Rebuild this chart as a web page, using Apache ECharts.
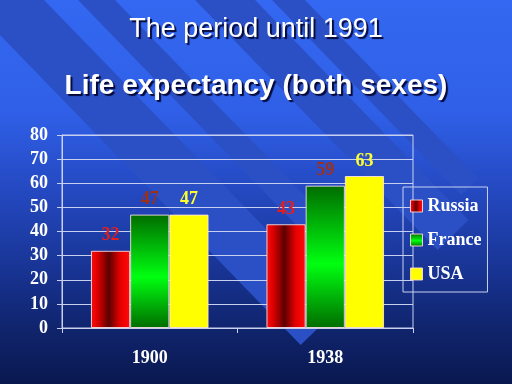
<!DOCTYPE html>
<html><head><meta charset="utf-8">
<script src="https://cdn.jsdelivr.net/npm/echarts@6/dist/echarts.min.js"></script>
<style>html,body{margin:0;padding:0;background:#0b1a55}#c{width:512px;height:384px}</style>
</head><body><div id="c"></div>
<script>
// ---- data ----
const categories = ['1900', '1938'];
const seriesNames = ['Russia', 'France', 'USA'];
const russia = [32, 43];
const france = [47, 59];
const usa = [47, 63];
const yMin = 0, yMax = 80, yStep = 10;
const titleText = 'The period until 1991';
const subtitleText = 'Life expectancy (both sexes)';

// ---- styling ----
const serif = '"Liberation Serif","Times New Roman",serif';
const sans = '"Liberation Sans",Arial,sans-serif';
const lineCol = '#c8d0f0';

const russiaGrad = {type:'linear', x:0, y:0, x2:1, y2:0, colorStops:[
  {offset:0, color:'#ff0a0a'}, {offset:0.18, color:'#d80000'}, {offset:0.46, color:'#5c0000'},
  {offset:0.75, color:'#e80000'}, {offset:1, color:'#ff0a0a'}]};
const franceGrad = {type:'linear', x:0, y:0, x2:0, y2:1, colorStops:[
  {offset:0, color:'#006c00'}, {offset:0.55, color:'#00ff10'}, {offset:1, color:'#006c00'}]};
const usaColor = '#ffff00';

const bgGrad = {type:'linear', x:0, y:0, x2:0, y2:1, colorStops:[
  {offset:0, color:'#3468f2'}, {offset:0.3, color:'#2f5fe6'}, {offset:0.5, color:'#2448c0'},
  {offset:0.7, color:'#183494'}, {offset:0.86, color:'#10246c'}, {offset:1, color:'#0a1850'}]};

// decorative diagonal stripes: [left x at top, right x at top, end y]
const K = 0.97;
function stripe(xl, xr, yE) {
  const ax = xl + K * yE, ay = yE;
  const t = (xr - xl) / (1 + K * K);
  return {type:'polygon', silent:true, z:-99,
    shape:{points:[[xl,0],[ax,ay],[ax+t, ay-K*t],[xr,0]]},
    style:{fill:'#2b50c6'}};
}
const stripes = [stripe(-34, 44, 345), stripe(78, 115, 240), stripe(195, 255, 250), stripe(272, 305, 195)];

function barSeries(name, data, color, labelColor) {
  return {
    type:'bar', name: name, data: data, barGap:'0%', barCategoryGap:'33%',
    itemStyle:{color: color, borderColor:'rgba(255,230,230,0.85)', borderWidth:1},
    label:{show:true, position:'top', distance:6, color:labelColor,
      fontFamily:serif, fontWeight:'bold', fontSize:18}
  };
}

const chart = echarts.init(document.getElementById('c'), null, {renderer:'canvas'});
chart.setOption({
  animation:false,
  graphic: [{type:'rect', silent:true, z:-100, shape:{x:0, y:0, width:512, height:384}, style:{fill:bgGrad}}].concat(stripes),
  title: [
    {text:titleText, left:'center', top:16, padding:0,
      textStyle:{color:'#fff', fontFamily:sans, fontWeight:'normal', fontSize:27,
        textShadowColor:'rgba(0,0,40,0.9)', textShadowOffsetX:2, textShadowOffsetY:2, textShadowBlur:1}},
    {text:subtitleText, left:'center', top:72, padding:0,
      textStyle:{color:'#fff', fontFamily:sans, fontWeight:'bold', fontSize:28,
        textShadowColor:'rgba(0,0,40,0.9)', textShadowOffsetX:2, textShadowOffsetY:2, textShadowBlur:1}}
  ],
  legend: {
    orient:'vertical', left:403, top:187, data:seriesNames, icon:'rect',
    itemWidth:12, itemHeight:12, itemGap:16, padding:[10,6,9,7],
    borderColor:lineCol, borderWidth:1, backgroundColor:'transparent',
    itemStyle:{borderColor:'rgba(255,220,220,0.9)', borderWidth:1},
    textStyle:{color:'#fff', fontFamily:serif, fontWeight:'bold', fontSize:18}
  },
  grid: {left:62, right:99, top:135, bottom:56, show:true, borderColor:lineCol, borderWidth:1,
    backgroundColor:'transparent', containLabel:false, outerBoundsMode:'none'},
  xAxis: {
    type:'category', data:categories,
    axisLine:{show:true, lineStyle:{color:lineCol, width:1}},
    axisTick:{show:true, length:5, lineStyle:{color:lineCol}},
    axisLabel:{color:'#fff', fontFamily:serif, fontWeight:'bold', fontSize:18, margin:21},
    splitLine:{show:false}
  },
  yAxis: {
    type:'value', min:yMin, max:yMax, interval:yStep,
    axisLine:{show:true, lineStyle:{color:lineCol, width:1}},
    axisTick:{show:true, length:5, lineStyle:{color:lineCol}},
    axisLabel:{color:'#fff', fontFamily:serif, fontWeight:'bold', fontSize:18, margin:14},
    splitLine:{show:true, lineStyle:{color:lineCol, width:1}}
  },
  series: [
    barSeries(seriesNames[0], russia, russiaGrad, '#e41e1e'),
    barSeries(seriesNames[1], france, franceGrad, '#9e3018'),
    barSeries(seriesNames[2], usa, usaColor, '#ffff30')
  ]
});
</script>
</body></html>
